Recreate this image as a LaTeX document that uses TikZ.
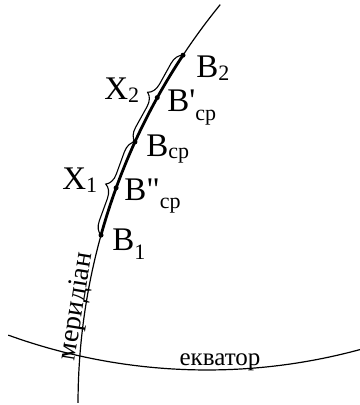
\documentclass[tikz,border=0pt]{standalone}
\usepackage{fontspec}
\newfontfamily\lblfont{Liberation Serif}
\usetikzlibrary{calc, decorations.pathreplacing}
\tikzstyle{meridian} = [line width=0.6pt]
\tikzstyle{span} = [line width=1.4pt]
\tikzstyle{bracket} = [line width=0.55pt, decorate, decoration={brace, amplitude=6.5pt}]
\tikzstyle{dot} = [circle, fill=black, inner sep=0pt, minimum size=2.5pt]
\tikzstyle{lbl} = [anchor=base west, inner sep=0pt, font=\lblfont\fontsize{16.5}{16.5}\selectfont]
\tikzstyle{merlbl} = [anchor=base, rotate=80.7, inner sep=0pt, font=\lblfont\fontsize{14}{14}\selectfont]
\tikzstyle{eqlbl} = [anchor=base, inner sep=0pt, font=\lblfont\fontsize{12.5}{12.5}\selectfont]
\newcommand{\lowsub}[2]{\raisebox{-#2}{\fontsize{11}{11}\selectfont #1}}

\begin{document}
\begin{tikzpicture}[x=0.5pt, y=0.5pt]
    \useasboundingbox (0,0) rectangle (359,-405);
    \coordinate (mc) at (710,-404);
    \coordinate (ec) at (207,214);

    \coordinate (top) at ($(mc)+(140.8:632)$);
    \coordinate (B2) at ($(mc)+(146.5:632)$);
    \coordinate (Bsr1) at ($(mc)+(151:632)$);
    \coordinate (Bsr) at ($(mc)+(155.5:632)$);
    \coordinate (Bsr2) at ($(mc)+(160:632)$);
    \coordinate (B1) at ($(mc)+(164.5:632)$);
    \coordinate (eqleft) at ($(ec)+(250.1:584)$);

    % meridian and equator
    \draw [meridian] (top) arc[start angle=140.8, end angle=179.9, radius=632];
    \draw [meridian] (eqleft) arc[start angle=250.1, end angle=285.3, radius=584];
    \draw [span] (B2) arc[start angle=146.5, end angle=164.5, radius=632];

    \draw [bracket] (B1) -- (Bsr);
    \draw [bracket] (Bsr) -- (B2);

    \foreach \p in {B1, Bsr2, Bsr, Bsr1, B2}
        \node [dot] at (\p) {};

    \node (lB2) [lbl] at (196,-78) {B\lowsub{2}{1.5pt}};
    \node (lBsr1) [lbl] at (167,-112) {B'\lowsub{ср}{4.5pt}};
    \node (lBsr) [lbl] at (146,-157) {B\lowsub{ср}{1pt}};
    \node (lBsr2) [lbl] at (124,-200) {B"\lowsub{ср}{4pt}};
    \node (lB1) [lbl] at (112,-250) {B\lowsub{1}{4.5pt}};
    \node (lX2) [lbl] at (104,-100) {X\lowsub{2}{1.5pt}};
    \node (lX1) [lbl] at (62,-190) {X\lowsub{1}{1.5pt}};

    \node (lmer) [merlbl] at ($(mc)+(171.25:634)$) {меридіан};
    \node (leq) [eqlbl] at (220,-365) {екватор};
\end{tikzpicture}
\end{document}
